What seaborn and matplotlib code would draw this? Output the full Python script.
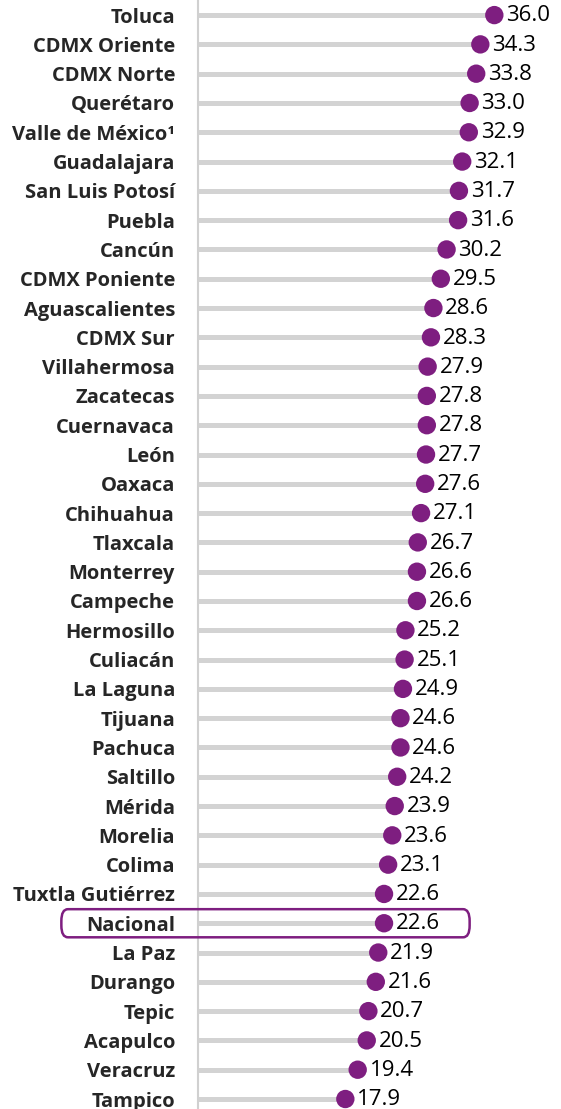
import matplotlib
matplotlib.use("Agg")
import matplotlib.pyplot as plt
from matplotlib.patches import FancyBboxPatch
import seaborn as sns
import pandas as pd

cities = [
    "Toluca", "CDMX Oriente", "CDMX Norte", "Querétaro", "Valle de México¹",
    "Guadalajara", "San Luis Potosí", "Puebla", "Cancún", "CDMX Poniente",
    "Aguascalientes", "CDMX Sur", "Villahermosa", "Zacatecas", "Cuernavaca",
    "León", "Oaxaca", "Chihuahua", "Tlaxcala", "Monterrey", "Campeche",
    "Hermosillo", "Culiacán", "La Laguna", "Tijuana", "Pachuca", "Saltillo",
    "Mérida", "Morelia", "Colima", "Tuxtla Gutiérrez", "Nacional", "La Paz",
    "Durango", "Tepic", "Acapulco", "Veracruz", "Tampico",
]
values = [
    36.0, 34.3, 33.8, 33.0, 32.9, 32.1, 31.7, 31.6, 30.2, 29.5,
    28.6, 28.3, 27.9, 27.8, 27.8, 27.7, 27.6, 27.1, 26.7, 26.6, 26.6,
    25.2, 25.1, 24.9, 24.6, 24.6, 24.2, 23.9, 23.6, 23.1, 22.6, 22.6,
    21.9, 21.6, 20.7, 20.5, 19.4, 17.9,
]
highlight = "Nacional"

PURPLE = "#7E1E80"
GREY = "#D3D3D3"

df = pd.DataFrame({"ciudad": cities, "valor": values})
df["pos"] = range(len(df))

sns.set_style("white")
plt.rcParams["font.family"] = ["Open Sans", "DejaVu Sans"]

fig = plt.figure(figsize=(5.61, 11.09), dpi=100)
ax = fig.add_axes([198 / 561, -0.0042, 1 - 198 / 561, 1.0038])

# stems
ax.hlines(df["pos"], 0, df["valor"], color=GREY, linewidth=3.6, zorder=1)
sns.scatterplot(data=df, x="valor", y="pos", color=PURPLE, s=175,
                edgecolor="none", ax=ax, zorder=3, clip_on=False)

for _, r in df.iterrows():
    ax.annotate(f"{r['valor']:.1f}", (r["valor"], r["pos"]), xytext=(8.5, -0.5),
                textcoords="offset points", va="center", ha="left",
                fontsize=16, color="black", annotation_clip=False)

ax.set_xlim(0, 44.1)
ax.set_ylim(len(df) - 0.5, -0.5)
ax.set_yticks(df["pos"])
ax.set_yticklabels(df["ciudad"], fontsize=14.5, fontweight="bold")
ax.tick_params(axis="y", length=0, pad=16.5)
ax.set_xticks([])
ax.set_xlabel("")
ax.set_ylabel("")
for s in ["top", "right", "bottom"]:
    ax.spines[s].set_visible(False)
ax.spines["left"].set_color("#D0D0D0")
ax.spines["left"].set_linewidth(1.5)

# box around the national value
i = cities.index(highlight)
box = FancyBboxPatch((-16.6, i - 0.48), 49.6, 0.96,
                     boxstyle="round,pad=0,rounding_size=0.8",
                     mutation_aspect=0.5,
                     fill=False, edgecolor=PURPLE, linewidth=1.8,
                     clip_on=False, zorder=4)
ax.add_patch(box)

fig.savefig("out.png", dpi=100)
